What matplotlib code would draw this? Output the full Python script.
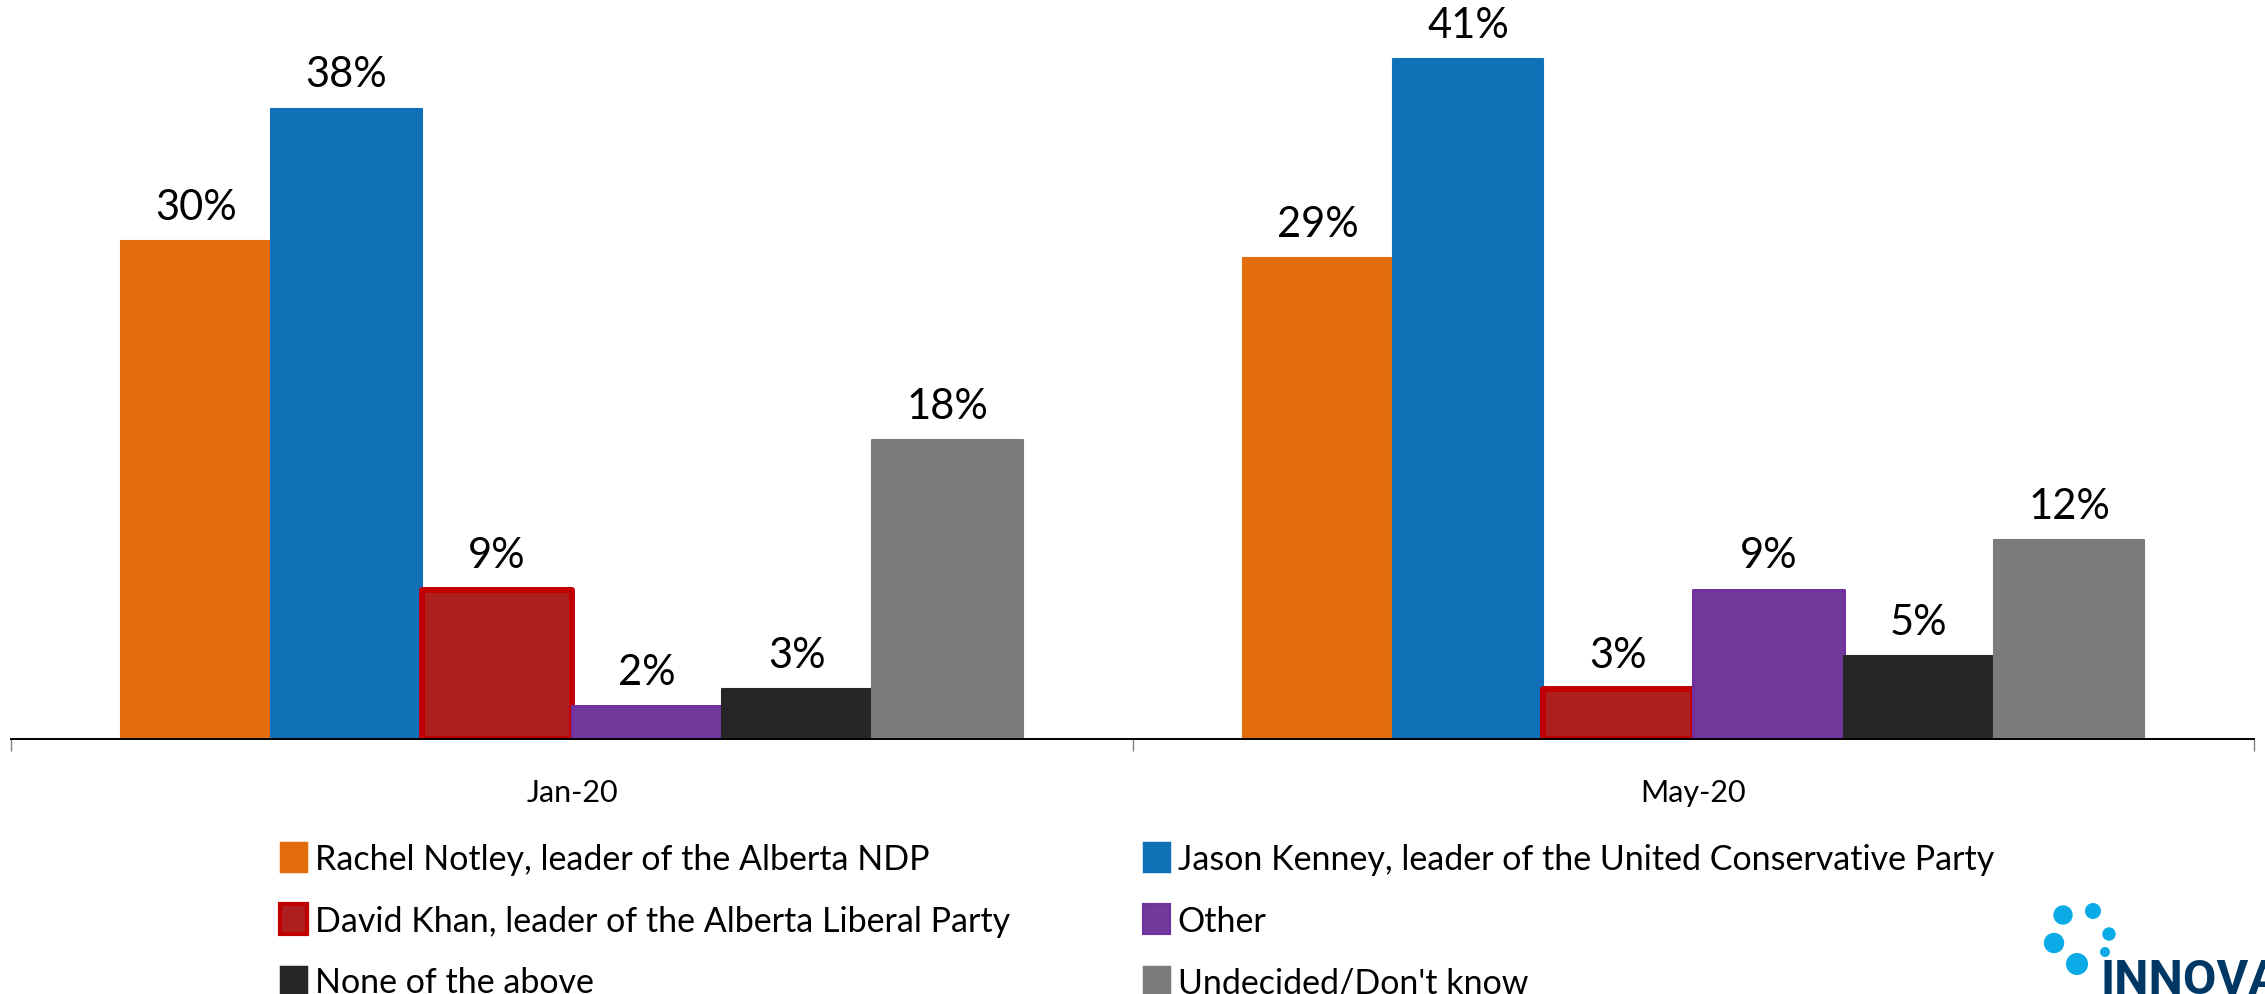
import matplotlib.pyplot as plt
import numpy as np
from matplotlib.patches import Circle, Patch

# Alberta leader preference, two survey waves
periods = ["Jan-20", "May-20"]
leaders = [
    "Rachel Notley, leader of the Alberta NDP",
    "Jason Kenney, leader of the United Conservative Party",
    "David Khan, leader of the Alberta Liberal Party",
    "Other",
    "None of the above",
    "Undecided/Don't know",
]
jan_values = [30, 38, 9, 2, 3, 18]
may_values = [29, 41, 3, 9, 5, 12]

fill_colors = ["#E36C0B", "#1071B7", "#AE1F20", "#71399B", "#262626", "#7B7C7A"]
edge_colors = ["#E36C0B", "#0F70BC", "#C00000", "#7030A0", "#262626", "#7B7C7A"]
edge_widths = [1.5, 1.5, 4.3, 2.2, 1.5, 1.5]

W, H = 2265, 995
fig = plt.figure(figsize=(W / 100, H / 100), dpi=100)
plt.rcParams["font.family"] = ["Lato", "DejaVu Sans"]

ax = fig.add_axes([11.3 / W, (H - 740) / H, (2254 - 11.3) / W, 740 / H])

values = np.array([jan_values, may_values])
x = np.arange(len(periods))
bar_w = 0.134

for i, name in enumerate(leaders):
    pos = x + (i - 2.5) * bar_w
    bars = ax.bar(pos, values[:, i], width=bar_w, color=fill_colors[i],
                  edgecolor=edge_colors[i], linewidth=edge_widths[i],
                  joinstyle="round", label=name, zorder=2 + i * 0.01)
    for rect, v in zip(bars, values[:, i]):
        ax.annotate(f"{v}%", (rect.get_x() + rect.get_width() / 2, v),
                    xytext=(0, 16), textcoords="offset points",
                    ha="center", va="baseline", fontsize=30, color="black")

ax.set_xlim(-0.5, 1.5)
ax.set_ylim(0, 44.6)
ax.set_yticks([])
for side in ["left", "right", "top"]:
    ax.spines[side].set_visible(False)
ax.spines["bottom"].set_linewidth(1.4)
ax.spines["bottom"].set_color("black")

ax.set_xticks(x)
ax.set_xticklabels(periods, fontsize=22)
ax.tick_params(axis="x", which="major", length=0, pad=28)
ax.set_xticks([-0.5, 0.5, 1.5], minor=True)
ax.tick_params(axis="x", which="minor", length=8.6, width=1.0, color="#808080")

# Legend in two columns, built as two separate legends
handles = [Patch(facecolor=fill_colors[i], edgecolor=edge_colors[i],
                 linewidth=edge_widths[i] * 0.7, joinstyle="round")
           for i in range(len(leaders))]
legend_kw = dict(frameon=False, fontsize=24.5, handlelength=0.8,
                 handleheight=1.0, handletextpad=0.22, labelspacing=0.85,
                 borderpad=0, borderaxespad=0, loc="upper left",
                 bbox_transform=fig.transFigure)
leg1 = fig.legend([handles[0], handles[2], handles[4]],
                  [leaders[0], leaders[2], leaders[4]],
                  bbox_to_anchor=(280 / W, (H - 843) / H), **legend_kw)
leg2 = fig.legend([handles[1], handles[3], handles[5]],
                  [leaders[1], leaders[3], leaders[5]],
                  bbox_to_anchor=(1143 / W, (H - 843) / H), **legend_kw)

# Company mark in the bottom right corner
logo = fig.add_axes([2030 / W, 0, (W - 2030) / W, (H - 880) / H])
logo.set_xlim(2030, W)
logo.set_ylim(H, 880)
logo.set_aspect("equal")
logo.axis("off")
dots = [(2063, 916, 9), (2093, 912, 7.3), (2109, 935, 6),
        (2054, 944, 9.5), (2105, 953, 4.3), (2077, 965, 10.3)]
for cx, cy, r in dots:
    logo.add_patch(Circle((cx, cy), r, color="#0AABE6"))
logo.text(2100, 958, "INNOVATIVE", fontsize=35, color="#003865",
          fontweight="bold", family=["Roboto", "DejaVu Sans"],
          ha="left", va="top", clip_on=False)

fig.savefig("out.png", dpi=100)
